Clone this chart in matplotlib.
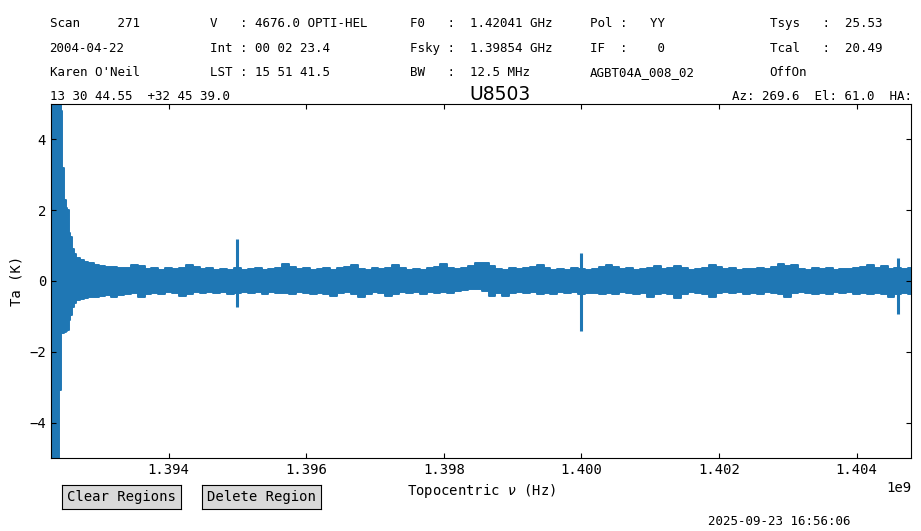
"""GBTIDL-style spectrum plot of scan 271 (U8503) with header block."""

import matplotlib

matplotlib.use("Agg")
import matplotlib.pyplot as plt
import numpy as np

plt.rcParams["font.family"] = ["DejaVu Sans Mono"]

# Header block: (column x in px, rows of text)
header_cols = [
    (50, ["Scan     271", "2004-04-22", "Karen O'Neil"]),
    (210, ["V   : 4676.0 OPTI-HEL", "Int : 00 02 23.4", "LST : 15 51 41.5"]),
    (410, ["F0   :  1.42041 GHz", "Fsky :  1.39854 GHz", "BW   :  12.5 MHz"]),
    (590, ["Pol :   YY", "IF  :    0", "AGBT04A_008_02"]),
    (770, ["Tsys   :  25.53", "Tcal   :  20.49", "OffOn"]),
]
coord_text = "13 30 44.55  +32 45 39.0"
source_name = "U8503"
azel_text = "Az: 269.6  El: 61.0  HA: 1.27"
timestamp = "2025-09-23 16:56:06"

# Ringing at the low-frequency edge of the band (GHz, K), envelope of the trace
left_freq = [1.39229, 1.39241, 1.392415, 1.39244, 1.392445, 1.39246, 1.39249,
             1.39252, 1.392535, 1.39256, 1.39258, 1.39260, 1.39264, 1.39268,
             1.39274, 1.39280, 1.39287, 1.39295, 1.39303, 1.39311]
left_upper = [5.5, 5.5, 5.5, 5.5, 4.8, 3.2, 2.3, 2.05, 2.0, 1.35, 1.25, 0.9,
              0.75, 0.65, 0.6, 0.55, 0.5, 0.45, 0.42, 0.40]
left_lower = [-5.5, -5.5, -3.07, -3.07, -1.47, -1.47, -1.45, -1.42, -1.38,
              -1.1, -0.95, -0.73, -0.62, -0.54, -0.50, -0.48, -0.46, -0.44,
              -0.42, -0.40]

# Noise envelope over the rest of the band, one value per 0.1 MHz from 1.3932 GHz
band_start = 1.3932
band_step = 0.0001
band_upper = [
    0.40, 0.38, 0.36, 0.44, 0.42, 0.34, 0.36, 0.32, 0.37, 0.33,
    0.38, 0.46, 0.40, 0.33, 0.36, 0.31, 0.35, 0.32, 0.37, 0.30,
    0.34, 0.36, 0.31, 0.35, 0.38, 0.47, 0.40, 0.33, 0.36, 0.30,
    0.34, 0.37, 0.32, 0.36, 0.40, 0.44, 0.35, 0.31, 0.36, 0.33,
    0.38, 0.44, 0.37, 0.32, 0.35, 0.31, 0.36, 0.40, 0.47, 0.38,
    0.34, 0.37, 0.43, 0.50, 0.52, 0.42, 0.35, 0.32, 0.36, 0.33,
    0.37, 0.40, 0.46, 0.36, 0.31, 0.35, 0.32, 0.37, 0.34, 0.30,
    0.35, 0.39, 0.46, 0.40, 0.33, 0.36, 0.31, 0.35, 0.38, 0.41,
    0.34, 0.37, 0.43, 0.36, 0.31, 0.35, 0.38, 0.45, 0.39, 0.33,
    0.36, 0.31, 0.35, 0.33, 0.37, 0.34, 0.39, 0.49, 0.42, 0.44,
    0.35, 0.32, 0.36, 0.33, 0.37, 0.31, 0.35, 0.33, 0.37, 0.39,
    0.44, 0.38, 0.42, 0.35, 0.37, 0.34,
]
band_lower = [
    -0.44, -0.40, -0.36, -0.33, -0.45, -0.38, -0.33, -0.36, -0.31, -0.35,
    -0.42, -0.37, -0.32, -0.35, -0.30, -0.34, -0.31, -0.36, -0.33, -0.30,
    -0.34, -0.32, -0.36, -0.31, -0.35, -0.33, -0.37, -0.32, -0.35, -0.38,
    -0.33, -0.36, -0.42, -0.35, -0.32, -0.38, -0.45, -0.36, -0.32, -0.35,
    -0.43, -0.37, -0.31, -0.34, -0.32, -0.36, -0.31, -0.34, -0.30, -0.33,
    -0.29, -0.26, -0.24, -0.22, -0.28, -0.42, -0.35, -0.42, -0.34, -0.31,
    -0.35, -0.32, -0.36, -0.33, -0.37, -0.32, -0.35, -0.31, -0.36, -0.33,
    -0.34, -0.38, -0.33, -0.36, -0.31, -0.35, -0.38, -0.33, -0.45, -0.37,
    -0.33, -0.38, -0.48, -0.36, -0.32, -0.35, -0.38, -0.44, -0.35, -0.31,
    -0.35, -0.32, -0.36, -0.33, -0.37, -0.32, -0.35, -0.38, -0.44, -0.35,
    -0.31, -0.35, -0.38, -0.33, -0.36, -0.32, -0.35, -0.31, -0.36, -0.33,
    -0.37, -0.34, -0.38, -0.45, -0.36, -0.34,
]
end_freq, end_upper, end_lower = 1.40479, 0.36, -0.36

# Narrow RFI spikes (GHz, K)
spike_freq = [1.39500, 1.40000, 1.404597]
spike_top = [1.18, 0.79, 0.65]
spike_bottom = [-0.73, -1.41, -0.93]

LINE_COLOR = "#1f77b4"
W, H = 921, 531


def fx(px):
    return px / W


def fy(px_from_top):
    return 1 - px_from_top / H


band_freq = band_start + band_step * np.arange(len(band_upper))
freq = np.concatenate([left_freq, band_freq, [end_freq]]) * 1e9
upper = np.concatenate([left_upper, band_upper, [end_upper]])
lower = np.concatenate([left_lower, band_lower, [end_lower]])

fig = plt.figure(figsize=(W / 100, H / 100), dpi=100)
ax = fig.add_axes([fx(51), 1 - 458 / H, 860 / W, 354 / H])

ax.fill_between(freq, lower, upper, step="mid", color=LINE_COLOR, lw=1.4,
                edgecolor=LINE_COLOR)
ax.vlines(np.array(spike_freq) * 1e9, spike_bottom, spike_top,
          color=LINE_COLOR, lw=2.2)

ax.set_xlim(freq.min(), freq.max())
ax.set_ylim(-5, 5)
ax.set_yticks([-4, -2, 0, 2, 4])
ax.tick_params(direction="in", top=True, right=True, labelsize=10)
ax.set_xlabel("Topocentric $\\nu$ (Hz)", fontsize=10)
ax.set_ylabel("Ta (K)", fontsize=10)

# header block
baselines = [27, 52, 76]
for x, rows in header_cols:
    for text, b in zip(rows, baselines):
        fig.text(fx(x - 0.5), fy(b), text, fontsize=9, va="baseline")
fig.text(fx(49.5), fy(100), coord_text, fontsize=9, va="baseline")
fig.text(fx(500), fy(100), source_name, fontsize=13.5, va="baseline",
         ha="center", family="DejaVu Sans")
fig.text(fx(732), fy(100), azel_text, fontsize=9, va="baseline")
fig.text(fx(708), fy(525), timestamp, fontsize=9, va="baseline")

# region buttons
for label, left in [("Clear Regions", 62), ("Delete Region", 202)]:
    bax = fig.add_axes([fx(left), 1 - 509 / H, 119 / W, 24 / H])
    bax.set_facecolor("#d9d9d9")
    bax.set_xticks([])
    bax.set_yticks([])
    bax.text(0.5, 0.5, label, ha="center", va="center", fontsize=10,
             transform=bax.transAxes)

fig.savefig("out.png", dpi=100)
